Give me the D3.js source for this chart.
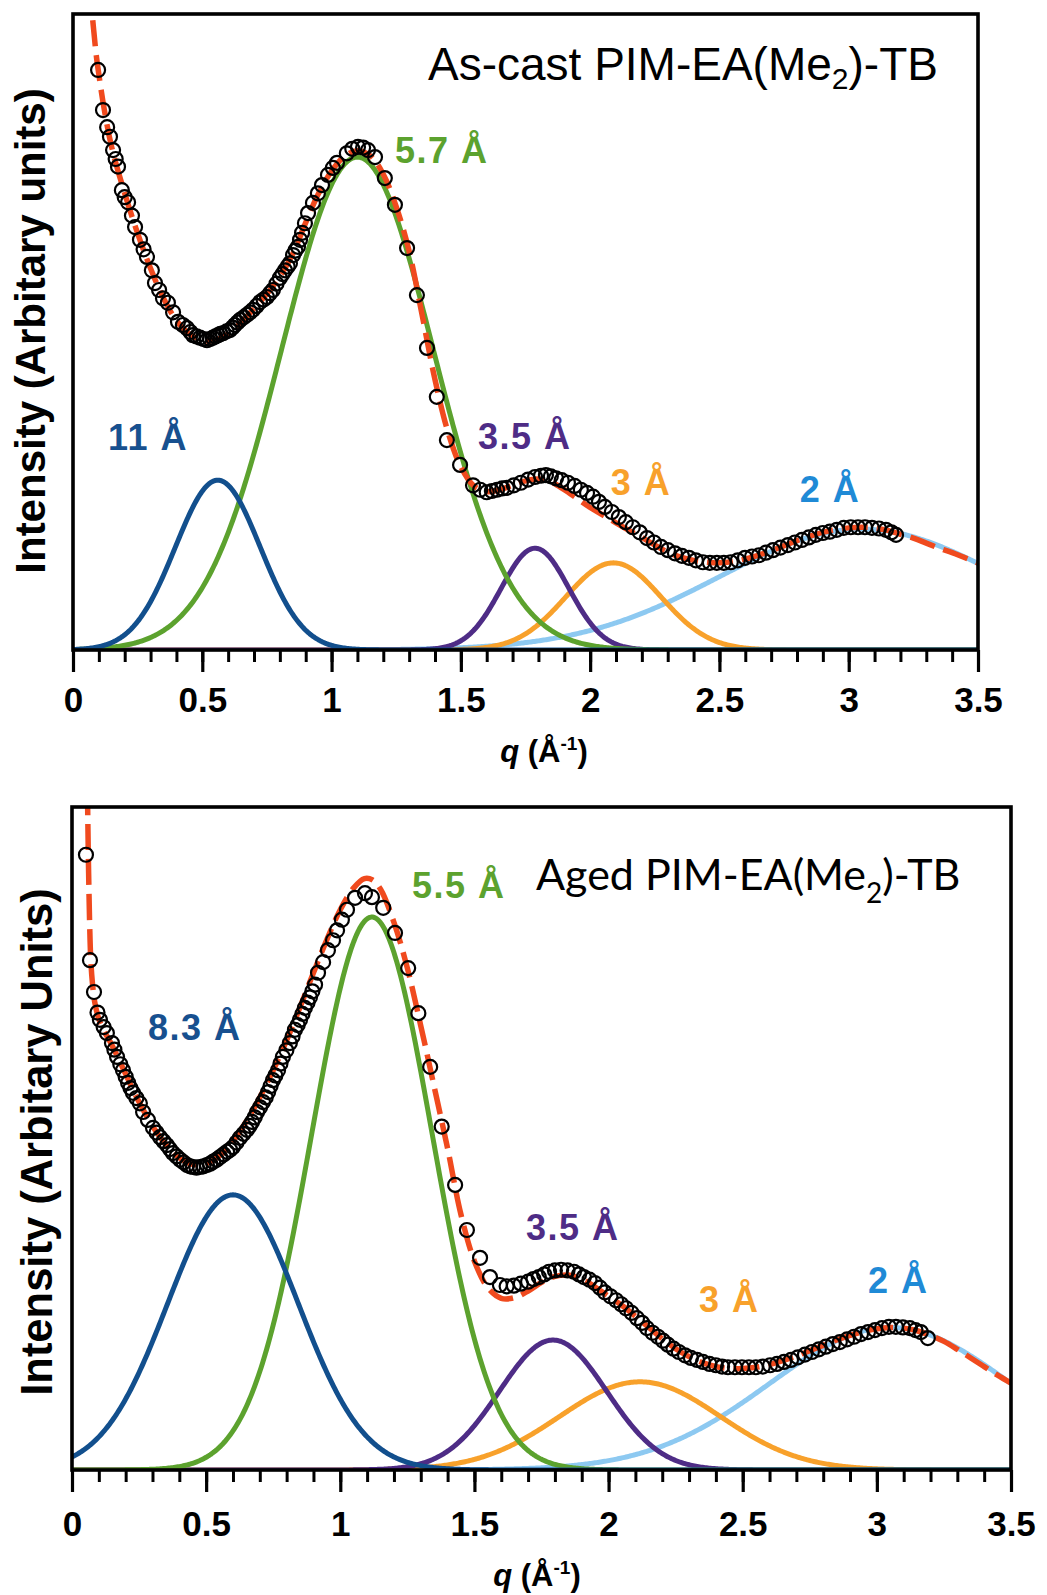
<!DOCTYPE html>
<html>
<head>
<meta charset="utf-8">
<script src="https://cdn.jsdelivr.net/npm/d3@7"></script>
<style>
  html, body { margin: 0; padding: 0; background: #ffffff; }
  svg { display: block; }
</style>
</head>
<body>
<svg id="chart" width="1047" height="1595"></svg>
<script>
// ---------------------------------------------------------------
// Wide-angle scattering of PIM-EA(Me2)-TB: measured intensity (circles),
// overall fit (dashed) and the Gaussian peak components.
// ---------------------------------------------------------------

// x axis: q in inverse Angstrom
const qMajorTicks = [0, 0.5, 1, 1.5, 2, 2.5, 3, 3.5];
const qTickLabels = ["0", "0.5", "1", "1.5", "2", "2.5", "3", "3.5"];

// component order: 11/8.3 A, 5.7/5.5 A, 3.5 A, 3 A, 2 A
const componentNames = ["blue", "green", "purple", "orange", "lightblue"];

// ---- As-cast film ----
const asCastTitle = ["As-cast PIM-EA(Me", "2", ")-TB"];
const asCastYLabel = "Intensity (Arbitary units)";
const asCastPeakLabels = ["11 Å", "5.7 Å", "3.5 Å", "3 Å", "2 Å"];
const asCastPeakQ      = [0.56, 1.10, 1.787, 2.09, 3.05];
const asCastPeakHeight = [0.267, 0.775, 0.160, 0.137, 0.190];
const asCastPeakSigma  = [0.164, 0.295, 0.131, 0.185, 0.55];

const asCastData = [
  [0.097,0.912],[0.116,0.849],[0.132,0.822],[0.143,0.807],[0.155,0.786],[0.165,0.772],
  [0.174,0.760],[0.189,0.723],[0.200,0.712],[0.213,0.704],[0.228,0.683],[0.240,0.665],
  [0.259,0.645],[0.273,0.630],[0.286,0.618],[0.305,0.597],[0.317,0.577],[0.333,0.566],
  [0.348,0.553],[0.367,0.546],[0.387,0.531],[0.406,0.516],[0.425,0.511],[0.441,0.506],
  [0.454,0.500],[0.464,0.495],[0.478,0.493],[0.491,0.491],[0.505,0.489],[0.518,0.487],
  [0.530,0.489],[0.541,0.491],[0.551,0.493],[0.561,0.495],[0.570,0.497],[0.580,0.498],
  [0.594,0.501],[0.607,0.503],[0.617,0.507],[0.626,0.511],[0.636,0.515],[0.646,0.519],
  [0.660,0.523],[0.673,0.527],[0.685,0.531],[0.696,0.535],[0.710,0.541],[0.723,0.547],
  [0.737,0.551],[0.750,0.555],[0.762,0.561],[0.773,0.566],[0.787,0.576],[0.800,0.585],
  [0.810,0.591],[0.820,0.597],[0.830,0.603],[0.839,0.608],[0.851,0.621],[0.860,0.628],
  [0.870,0.634],[0.878,0.645],[0.886,0.656],[0.897,0.671],[0.909,0.687],[0.928,0.703],
  [0.947,0.718],[0.963,0.731],[0.986,0.747],[1.005,0.758],[1.021,0.766],[1.059,0.781],
  [1.080,0.788],[1.102,0.791],[1.122,0.790],[1.141,0.786],[1.168,0.775],[1.206,0.742],
  [1.245,0.700],[1.292,0.632],[1.330,0.558],[1.369,0.475],[1.407,0.398],[1.446,0.330],
  [1.497,0.291],[1.547,0.259],[1.575,0.252],[1.600,0.248],[1.620,0.250],[1.640,0.252],
  [1.660,0.254],[1.678,0.255],[1.705,0.259],[1.732,0.263],[1.760,0.268],[1.787,0.272],
  [1.810,0.274],[1.829,0.275],[1.848,0.273],[1.868,0.270],[1.890,0.267],[1.914,0.263],
  [1.940,0.258],[1.964,0.252],[1.988,0.247],[2.011,0.241],[2.034,0.233],[2.057,0.225],
  [2.084,0.217],[2.111,0.209],[2.138,0.201],[2.165,0.193],[2.192,0.185],[2.220,0.176],
  [2.247,0.169],[2.274,0.162],[2.301,0.157],[2.328,0.152],[2.355,0.148],[2.382,0.145],
  [2.409,0.141],[2.436,0.138],[2.463,0.137],[2.490,0.137],[2.517,0.137],[2.544,0.138],
  [2.571,0.141],[2.599,0.145],[2.626,0.147],[2.653,0.149],[2.680,0.153],[2.707,0.157],
  [2.736,0.161],[2.765,0.165],[2.792,0.169],[2.819,0.173],[2.846,0.177],[2.873,0.181],
  [2.900,0.184],[2.927,0.186],[2.954,0.189],[2.981,0.192],[3.008,0.193],[3.036,0.193],
  [3.063,0.193],[3.090,0.192],[3.117,0.191],[3.144,0.189],[3.165,0.185],[3.183,0.181]
];

const asCastFit = [
  [0.060,1.10],[0.070,1.02],[0.080,0.975],[0.090,0.935],[0.100,0.905],[0.120,0.852],
  [0.150,0.790],[0.200,0.718],[0.250,0.655],[0.300,0.600],[0.350,0.553],[0.400,0.518],
  [0.450,0.497],[0.500,0.487],[0.550,0.487],[0.600,0.497],[0.650,0.515],[0.700,0.537],
  [0.750,0.560],[0.800,0.587],[0.850,0.623],[0.900,0.672],[0.950,0.718],[1.000,0.753],
  [1.050,0.776],[1.100,0.785],[1.150,0.777],[1.200,0.748],[1.250,0.697],[1.300,0.627],
  [1.350,0.527],[1.400,0.425],[1.450,0.343],[1.500,0.288],[1.550,0.258],[1.600,0.249],
  [1.650,0.252],[1.700,0.259],[1.750,0.266],[1.800,0.269],[1.850,0.264],[1.900,0.252],
  [1.950,0.238],[2.000,0.224],[2.050,0.212],[2.100,0.200],[2.150,0.188],[2.200,0.177],
  [2.250,0.165],[2.300,0.154],[2.350,0.146],[2.400,0.141],[2.450,0.138],[2.500,0.137],
  [2.550,0.139],[2.600,0.143],[2.650,0.149],[2.700,0.156],[2.750,0.164],[2.800,0.172],
  [2.850,0.179],[2.900,0.185],[2.950,0.189],[3.000,0.192],[3.050,0.193],[3.100,0.192],
  [3.150,0.188],[3.200,0.182],[3.250,0.176],[3.300,0.168],[3.350,0.160],[3.400,0.153],
  [3.450,0.145],[3.500,0.137]
];

// ---- Aged film ----
const agedTitle = ["Aged PIM-EA(Me", "2", ")-TB"];
const agedYLabel = "Intensity (Arbitary Units)";
const agedPeakLabels = ["8.3 Å", "5.5 Å", "3.5 Å", "3 Å", "2 Å"];
const agedPeakQ      = [0.60, 1.118, 1.793, 2.117, 3.05];
const agedPeakHeight = [0.415, 0.834, 0.196, 0.133, 0.215];
const agedPeakSigma  = [0.243, 0.225, 0.200, 0.300, 0.45];

const agedData = [
  [0.052,0.928],[0.067,0.769],[0.082,0.721],[0.095,0.690],[0.104,0.679],[0.118,0.668],
  [0.130,0.659],[0.149,0.644],[0.158,0.634],[0.168,0.623],[0.180,0.612],[0.190,0.603],
  [0.200,0.593],[0.209,0.584],[0.218,0.576],[0.227,0.569],[0.240,0.561],[0.253,0.553],
  [0.265,0.540],[0.283,0.528],[0.302,0.516],[0.315,0.509],[0.328,0.502],[0.341,0.496],
  [0.354,0.490],[0.365,0.484],[0.376,0.478],[0.390,0.473],[0.403,0.468],[0.416,0.464],
  [0.429,0.460],[0.440,0.458],[0.451,0.457],[0.464,0.456],[0.477,0.457],[0.490,0.458],
  [0.503,0.460],[0.515,0.462],[0.526,0.465],[0.539,0.468],[0.552,0.472],[0.565,0.476],
  [0.578,0.480],[0.589,0.483],[0.600,0.487],[0.613,0.494],[0.626,0.501],[0.639,0.507],
  [0.652,0.513],[0.662,0.519],[0.671,0.525],[0.681,0.532],[0.690,0.540],[0.701,0.547],
  [0.712,0.555],[0.722,0.562],[0.731,0.570],[0.740,0.579],[0.749,0.588],[0.758,0.595],
  [0.768,0.603],[0.777,0.613],[0.786,0.623],[0.799,0.633],[0.812,0.644],[0.822,0.654],
  [0.831,0.664],[0.841,0.671],[0.850,0.679],[0.859,0.688],[0.868,0.697],[0.878,0.705],
  [0.887,0.713],[0.896,0.722],[0.906,0.732],[0.917,0.750],[0.936,0.766],[0.954,0.784],
  [0.973,0.799],[0.988,0.814],[1.006,0.830],[1.025,0.845],[1.055,0.863],[1.092,0.870],
  [1.118,0.864],[1.160,0.848],[1.204,0.810],[1.253,0.757],[1.291,0.689],[1.335,0.608],
  [1.378,0.518],[1.428,0.430],[1.472,0.362],[1.521,0.320],[1.558,0.291],[1.595,0.279],
  [1.620,0.277],[1.647,0.278],[1.673,0.281],[1.700,0.284],[1.720,0.288],[1.740,0.291],
  [1.760,0.295],[1.778,0.299],[1.800,0.301],[1.823,0.302],[1.847,0.301],[1.871,0.299],
  [1.890,0.295],[1.908,0.291],[1.929,0.287],[1.949,0.282],[1.968,0.275],[1.986,0.268],
  [2.007,0.262],[2.028,0.256],[2.047,0.250],[2.065,0.244],[2.086,0.237],[2.106,0.229],
  [2.125,0.222],[2.143,0.214],[2.164,0.207],[2.184,0.201],[2.203,0.195],[2.221,0.189],
  [2.242,0.183],[2.262,0.178],[2.285,0.173],[2.307,0.169],[2.330,0.166],[2.352,0.163],
  [2.376,0.160],[2.400,0.158],[2.423,0.156],[2.445,0.155],[2.471,0.155],[2.497,0.155],
  [2.523,0.155],[2.549,0.155],[2.575,0.156],[2.602,0.158],[2.628,0.160],[2.654,0.163],
  [2.680,0.166],[2.706,0.170],[2.732,0.174],[2.758,0.178],[2.784,0.182],[2.810,0.186],
  [2.836,0.190],[2.862,0.193],[2.889,0.197],[2.915,0.201],[2.941,0.205],[2.967,0.208],
  [2.993,0.211],[3.019,0.214],[3.045,0.216],[3.071,0.216],[3.097,0.215],[3.123,0.214],
  [3.144,0.211],[3.164,0.208],[3.190,0.199]
];

const agedFit = [
  [0.056,1.08],[0.059,0.98],[0.062,0.90],[0.066,0.82],[0.070,0.77],[0.076,0.735],
  [0.085,0.705],[0.100,0.680],[0.120,0.662],[0.150,0.640],[0.200,0.597],[0.250,0.555],
  [0.300,0.519],[0.350,0.491],[0.400,0.471],[0.450,0.461],[0.500,0.462],[0.550,0.474],
  [0.600,0.496],[0.650,0.526],[0.700,0.562],[0.750,0.603],[0.800,0.648],[0.850,0.698],
  [0.900,0.750],[0.950,0.800],[1.000,0.845],[1.050,0.878],[1.090,0.892],[1.120,0.890],
  [1.150,0.876],[1.200,0.826],[1.250,0.757],[1.300,0.670],[1.350,0.578],[1.400,0.485],
  [1.450,0.385],[1.500,0.315],[1.550,0.275],[1.600,0.259],[1.650,0.260],[1.700,0.270],
  [1.750,0.283],[1.800,0.292],[1.850,0.294],[1.900,0.288],[1.950,0.276],[2.000,0.262],
  [2.050,0.248],[2.100,0.232],[2.150,0.215],[2.200,0.198],[2.250,0.183],[2.300,0.171],
  [2.350,0.162],[2.400,0.156],[2.450,0.153],[2.500,0.153],[2.550,0.155],[2.600,0.159],
  [2.650,0.165],[2.700,0.172],[2.750,0.180],[2.800,0.188],[2.850,0.196],[2.900,0.203],
  [2.950,0.209],[3.000,0.213],[3.050,0.215],[3.100,0.214],[3.150,0.210],[3.200,0.203],
  [3.250,0.194],[3.300,0.182],[3.350,0.169],[3.400,0.156],[3.450,0.143],[3.500,0.131]
];

// ---------------------------------------------------------------
// styling and layout
// ---------------------------------------------------------------
const curveColor = {
  blue: "#124f8d", green: "#5ca22e", purple: "#4e2c86",
  orange: "#f8a12b", lightblue: "#8dc9f1"
};
const labelColor = {
  blue: "#17508f", green: "#5ca22e", purple: "#4e2c86",
  orange: "#f8a12b", lightblue: "#1f8ad6"
};
const fitColor = "#f04a1e";
const FONT = "'Liberation Sans', Arial, Helvetica, sans-serif";

const panels = [
  {
    id: "ascast",
    box: { left: 73, right: 978, top: 14, bottom: 650 },
    data: asCastData, fit: asCastFit,
    peakQ: asCastPeakQ, peakH: asCastPeakHeight, peakS: asCastPeakSigma,
    peakLabels: asCastPeakLabels,
    // label anchors (start of text, baseline) in data units
    labelAt: [[0.135, 0.314], [1.245, 0.766], [1.566, 0.316], [2.080, 0.244], [2.811, 0.233]],
    title: asCastTitle, titleX: 428, titleY: 80, titleFont: FONT, titleSize: 46, subSize: 30, subDy: 9,
    yLabel: asCastYLabel, yLabelX: 45, yLabelY: 331, yLabelSize: 42,
    tickLabelBaseline: 712, xTitleX: 544, xTitleY: 762
  },
  {
    id: "aged",
    box: { left: 72, right: 1011, top: 807, bottom: 1470 },
    data: agedData, fit: agedFit,
    peakQ: agedPeakQ, peakH: agedPeakHeight, peakS: agedPeakSigma,
    peakLabels: agedPeakLabels,
    labelAt: [[0.283, 0.649], [1.267, 0.863], [1.692, 0.347], [2.337, 0.238], [2.967, 0.267]],
    title: agedTitle, titleX: 536, titleY: 890, titleFont: "Lato, 'Open Sans', sans-serif", titleSize: 43, subSize: 28, subDy: 13,
    yLabel: agedYLabel, yLabelX: 52, yLabelY: 1142, yLabelSize: 43.5,
    tickLabelBaseline: 1536, xTitleX: 537, xTitleY: 1586
  }
];

const svg = d3.select("#chart");
svg.append("rect").attr("width", 1047).attr("height", 1595).attr("fill", "#ffffff");
const defs = svg.append("defs");

panels.forEach(p => {
  const b = p.box;
  const x = d3.scaleLinear().domain([0, 3.5]).range([b.left, b.right]);
  const y = d3.scaleLinear().domain([0, 1]).range([b.bottom, b.top]);

  defs.append("clipPath").attr("id", "clip-" + p.id)
    .append("rect")
    .attr("x", b.left).attr("y", b.top)
    .attr("width", b.right - b.left).attr("height", b.bottom - b.top);

  const g = svg.append("g");
  const plot = g.append("g").attr("clip-path", `url(#clip-${p.id})`);

  // Gaussian peak components, sampled across the q range
  const qGrid = d3.range(0, 3.5001, 0.005);
  const line = d3.line().x(d => x(d[0])).y(d => y(d[1]));
  const drawOrder = [4, 3, 2, 1, 0];
  drawOrder.forEach(i => {
    const c = p.peakQ[i], h = p.peakH[i], s = p.peakS[i];
    const pts = qGrid.map(q => [q, h * Math.exp(-((q - c) * (q - c)) / (2 * s * s))]);
    plot.append("path")
      .attr("d", line(pts))
      .attr("fill", "none")
      .attr("stroke", curveColor[componentNames[i]])
      .attr("stroke-width", 5)
      .attr("stroke-linejoin", "round");
  });

  // overall fit (dashed)
  plot.append("path")
    .attr("d", d3.line().x(d => x(d[0])).y(d => y(d[1])).curve(d3.curveCatmullRom.alpha(0.5))(p.fit))
    .attr("fill", "none")
    .attr("stroke", fitColor)
    .attr("stroke-width", 5.5)
    .attr("stroke-dasharray", "26 9");

  // measured points
  plot.append("g").selectAll("circle")
    .data(p.data)
    .join("circle")
    .attr("cx", d => x(d[0]))
    .attr("cy", d => y(d[1]))
    .attr("r", 7)
    .attr("fill", "none")
    .attr("stroke", "#000000")
    .attr("stroke-width", 2.2);

  // frame
  g.append("rect")
    .attr("x", b.left).attr("y", b.top)
    .attr("width", b.right - b.left).attr("height", b.bottom - b.top)
    .attr("fill", "none").attr("stroke", "#000").attr("stroke-width", 3.6);

  // minor and major ticks on the q axis
  const minorAxis = d3.axisBottom(x).tickValues(d3.range(0, 3.5001, 0.1)).tickSize(12).tickFormat("");
  const gMinor = g.append("g").attr("transform", `translate(0,${b.bottom})`).call(minorAxis);
  gMinor.select(".domain").remove();
  gMinor.selectAll(".tick line").attr("stroke", "#000").attr("stroke-width", 3);

  const majorAxis = d3.axisBottom(x).tickValues(qMajorTicks).tickSize(22)
    .tickFormat((d, i) => qTickLabels[i]);
  const gMajor = g.append("g").attr("transform", `translate(0,${b.bottom})`).call(majorAxis);
  gMajor.select(".domain").remove();
  gMajor.selectAll(".tick line").attr("stroke", "#000").attr("stroke-width", 3.2);
  gMajor.selectAll(".tick text")
    .attr("y", p.tickLabelBaseline - b.bottom)
    .attr("dy", null)
    .attr("fill", "#000")
    .style("font-family", FONT)
    .style("font-weight", "bold")
    .style("font-size", "35px");

  // q axis title
  const xt = g.append("text")
    .attr("x", p.xTitleX)
    .attr("y", p.xTitleY)
    .attr("text-anchor", "middle")
    .style("font-family", FONT)
    .style("font-weight", "bold")
    .style("font-size", "31px")
    .attr("fill", "#000");
  xt.append("tspan").style("font-style", "italic").text("q");
  xt.append("tspan").text(" (Å");
  xt.append("tspan").attr("dy", -12).style("font-size", "19px").text("-1");
  xt.append("tspan").attr("dy", 12).text(")");

  // intensity axis title
  g.append("text")
    .attr("transform", `translate(${p.yLabelX},${p.yLabelY}) rotate(-90)`)
    .attr("text-anchor", "middle")
    .style("font-family", FONT)
    .style("font-weight", "bold")
    .style("font-size", p.yLabelSize + "px")
    .attr("fill", "#000")
    .text(p.yLabel);

  // sample title with subscript
  const tt = g.append("text")
    .attr("x", p.titleX).attr("y", p.titleY)
    .style("font-family", p.titleFont)
    .style("font-size", p.titleSize + "px")
    .attr("fill", "#000");
  tt.append("tspan").text(p.title[0]);
  tt.append("tspan").attr("dy", p.subDy).style("font-size", p.subSize + "px").text(p.title[1]);
  tt.append("tspan").attr("dy", -p.subDy).text(p.title[2]);

  // d-spacing labels for each component
  p.peakLabels.forEach((lab, i) => {
    g.append("text")
      .attr("x", x(p.labelAt[i][0]))
      .attr("y", y(p.labelAt[i][1]))
      .style("font-family", FONT)
      .style("font-weight", "bold")
      .style("font-size", "36px")
      .style("letter-spacing", "1.5px")
      .attr("fill", labelColor[componentNames[i]])
      .text(lab);
  });
});
</script>
</body>
</html>
